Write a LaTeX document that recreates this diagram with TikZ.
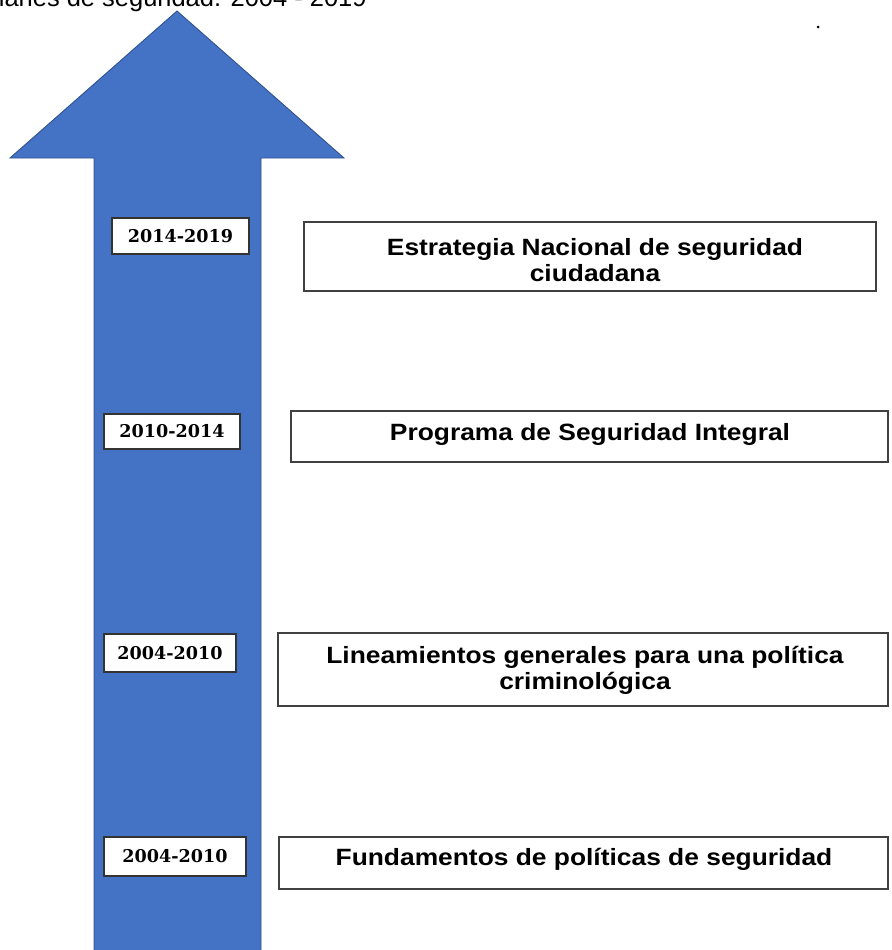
\documentclass[tikz,border=0pt]{standalone}
\usepackage{fontspec}
\setmainfont{Liberation Sans}
\newfontfamily\boxfont{Liberation Sans}[FakeStretch=1.12]
\newfontfamily\yearfont{DejaVu Serif}
\usetikzlibrary{positioning, calc}
\definecolor{arrowblue}{HTML}{4472C4}
\definecolor{arrowedge}{HTML}{2F528F}

\begin{document}
\begin{tikzpicture}[x=0.02cm, y=-0.02cm]
  \useasboundingbox (0,0) rectangle (892,950);
  \clip (0,0) rectangle (892,950);
  % Title (cut at the top)
  \node[anchor=base east, inner sep=0pt, font=\fontsize{14.5}{17}\selectfont] (title) at (367,7) {Planes de seguridad. 2004 - 2019};
  \fill (818,27) circle (1.5);

  % Big arrow
  \draw[fill=arrowblue, draw=arrowedge, line width=0.5pt]
    (94,951) -- (94,158) -- (10,158) -- (177,11) -- (344,158) -- (261,158) -- (261,951) -- cycle;

  % Years
  \foreach \n/\cx/\cy/\w/\h/\lbl in {1/180.5/236/137/36/2014-2019,
                                     2/172/431.5/136/35/2010-2014,
                                     3/170/653/132/38/2004-2010,
                                     4/175/856.5/142/39/2004-2010}{
    \node[draw=black!80, fill=white, line width=0.6pt, inner sep=0pt,
          minimum width=\w*0.02cm, minimum height=\h*0.02cm,
          font=\yearfont\bfseries\fontsize{10}{12}\selectfont] (yr\n) at (\cx,\cy) {\lbl};
  }

  % Policies: box, then its text (base = last line)
  \foreach \n/\cx/\cy/\w/\h/\tx/\ty/\lbl in {1/590/256.5/572/69/595/281/{Estrategia Nacional de seguridad\\ciudadana},
                                             2/589.5/436.5/597/51/590/440/{Programa de Seguridad Integral},
                                             3/583/669.5/610/73/585/689/{Lineamientos generales para una política\\criminológica},
                                             4/583.5/863/609/52/584/865/{Fundamentos de políticas de seguridad}}{
    \node[draw=black!75, fill=white, line width=0.6pt, inner sep=0pt,
          minimum width=\w*0.02cm, minimum height=\h*0.02cm] (pol\n) at (\cx,\cy) {};
    \node[anchor=base, inner sep=0pt, align=center,
          font=\boxfont\bfseries\fontsize{13.4}{14.8}\selectfont] (txt\n) at (\tx,\ty) {\lbl};
  }
\end{tikzpicture}
\end{document}
